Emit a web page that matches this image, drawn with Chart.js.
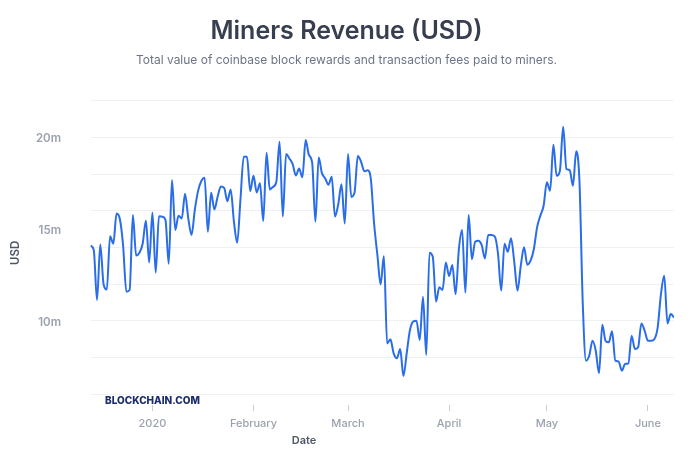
<!DOCTYPE html>
<html>
<head>
<meta charset="utf-8">
<script src="https://cdn.jsdelivr.net/npm/chart.js@4/dist/chart.umd.min.js"></script>
<style>
  html, body { margin: 0; padding: 0; background: #ffffff; }
  #wrap { position: relative; width: 700px; height: 452px; overflow: hidden; font-family: Inter, "Noto Sans", sans-serif; }
  #c { position: absolute; left: 0; top: 0; }
  .txt { position: absolute; white-space: nowrap; }
  #title { top: 17.5px; left: 0; width: 693px; text-align: center; font-size: 25px; line-height: 25px; font-weight: 600; color: #363e50; }
  #subtitle { top: 53.5px; left: 0; width: 693px; text-align: center; font-size: 12px; line-height: 12px; font-weight: 400; color: #6c7488; }
  #xtitle { top: 434px; left: 254px; width: 100px; text-align: center; font-size: 11px; line-height: 13px; font-weight: 600; color: #4f5767; }
  #brand { top: 393.5px; left: 105px; font-size: 10px; line-height: 12px; font-weight: 800; color: #1a2b6d; }
</style>
</head>
<body>
<div id="wrap">
  <canvas id="c" width="700" height="452"></canvas>
  <div class="txt" id="title">Miners Revenue (USD)</div>
  <div class="txt" id="subtitle">Total value of coinbase block rewards and transaction fees paid to miners.</div>
  <div class="txt" id="brand">BLOCKCHAIN.COM</div>
  <div class="txt" id="xtitle">Date</div>
</div>
<script>
// Daily series start date (one value per day)
const startDate = '2019-12-13';
const axisOrigin = '2020-01-01';

// Miners revenue, millions of USD, daily from 2019-12-13 to 2020-06-09
const revenueMillions = [
  14.09, 13.85, 11.13, 14.16, 12.0, 11.7, 14.6, 14.2, 15.85, 15.55,
  14.1, 11.58, 11.67, 15.76, 13.55, 13.7, 14.2, 15.45, 13.18, 15.9,
  12.62, 15.7, 15.67, 15.5, 13.1, 17.67, 14.95, 15.73, 15.58, 16.92,
  15.58, 14.67, 16.04, 17.08, 17.62, 17.8, 14.85, 16.98, 16.07, 16.76,
  17.32, 17.24, 16.52, 17.16, 15.4, 14.25, 16.6, 18.94, 18.94, 17.07,
  17.9, 16.99, 17.5, 15.44, 19.16, 17.16, 17.3, 17.56, 19.76, 15.68,
  19.09, 18.85, 18.55, 17.92, 18.3, 17.82, 19.85, 19.04, 18.62, 15.4,
  18.9, 18.05, 17.76, 17.42, 17.85, 15.68, 16.35, 17.44, 15.3, 19.09,
  16.75, 16.99, 18.98, 18.67, 18.15, 18.2, 17.72, 15.3, 13.6, 11.98,
  13.53, 8.76, 8.98, 8.22, 7.95, 8.45, 6.98, 8.22, 9.49, 9.95,
  10.0, 8.95, 11.31, 8.13, 13.71, 13.49, 11.04, 11.82, 11.67, 13.18,
  12.44, 13.04, 11.44, 13.89, 14.95, 11.53, 15.76, 13.35, 14.31, 14.36,
  14.13, 13.4, 14.67, 14.67, 14.6, 13.67, 11.64, 14.2, 13.76, 14.5,
  13.2, 11.64, 13.0, 14.0, 13.05, 13.27, 13.9, 15.09, 15.73, 16.27,
  17.55, 17.09, 19.6, 17.9, 18.18, 20.58, 18.27, 18.22, 17.36, 19.24,
  17.6, 11.0, 7.82, 8.09, 8.9, 8.36, 7.13, 9.78, 8.9, 8.82,
  9.42, 7.82, 7.78, 7.27, 7.64, 7.67, 9.18, 8.45, 8.55, 9.85,
  9.45, 8.9, 8.9, 9.0, 9.64, 11.45, 12.45, 9.85, 10.36, 10.18
];

// X axis month ticks (days since 2020-01-01)
const monthTickDays = [0, 31, 60, 91, 121, 152];
const monthTickLabels = ['2020', 'February', 'March', 'April', 'May', 'June'];

// Y axis: grid every 2m, labels at 10m / 15m / 20m
const yGridValues = [6, 8, 10, 12, 14, 16, 18, 20, 22];
const yLabelValues = [10, 15, 20];

const DAY = 86400000;
const t0 = Date.parse(startDate + 'T00:00:00Z');
const origin = Date.parse(axisOrigin + 'T00:00:00Z');
const points = revenueMillions.map((v, i) => ({ x: Math.round((t0 + i * DAY - origin) / DAY), y: v }));

const yTickValues = Array.from(new Set(yGridValues.concat(yLabelValues))).sort((a, b) => a - b);
const tickFont = { family: 'Inter', size: 11, weight: '500' };
const yTickFont = { family: 'Inter', size: 11.5, weight: '600' };

new Chart(document.getElementById('c'), {
  type: 'line',
  data: {
    datasets: [{
      data: points,
      borderColor: '#2a6de8',
      borderWidth: 2,
      pointRadius: 0,
      pointHoverRadius: 0,
      fill: false,
      cubicInterpolationMode: 'monotone'
    }]
  },
  options: {
    responsive: false,
    animation: false,
    layout: { padding: { top: 100.7, right: 26, bottom: 0, left: 0 } },
    plugins: { legend: { display: false }, tooltip: { enabled: false } },
    scales: {
      x: {
        type: 'linear',
        min: points[0].x,
        max: points[points.length - 1].x,
        afterBuildTicks: s => { s.ticks = monthTickDays.map(v => ({ value: v })); },
        afterFit: s => { s.height = 47; },
        border: { display: false },
        grid: { drawOnChartArea: false, drawTicks: true, tickLength: 6, tickColor: '#c9cdd4', tickWidth: 1 },
        ticks: {
          padding: 6,
          color: '#9aa1af',
          font: tickFont,
          autoSkip: false,
          maxRotation: 0,
          callback: v => { const k = monthTickDays.indexOf(v); return k >= 0 ? monthTickLabels[k] : ''; }
        }
      },
      y: {
        type: 'linear',
        min: 5.4,
        max: 22,
        afterBuildTicks: s => { s.ticks = yTickValues.map(v => ({ value: v })); },
        afterFit: s => { s.width = 90.5; },
        border: { display: false },
        grid: {
          drawTicks: false,
          lineWidth: 1,
          color: c => (c.tick && yGridValues.includes(c.tick.value)) ? '#eef0f3' : 'rgba(0,0,0,0)'
        },
        ticks: {
          padding: 29.5,
          color: '#9aa1af',
          font: yTickFont,
          labelOffset: 1.5,
          callback: v => yLabelValues.includes(v) ? v + 'm' : ''
        },
        title: {
          display: true,
          text: 'USD',
          color: '#4f5767',
          font: { family: 'Inter', size: 11.5, weight: '600' },
          padding: { top: 8.8, bottom: 0 }
        }
      }
    }
  }
});
</script>
</body>
</html>
